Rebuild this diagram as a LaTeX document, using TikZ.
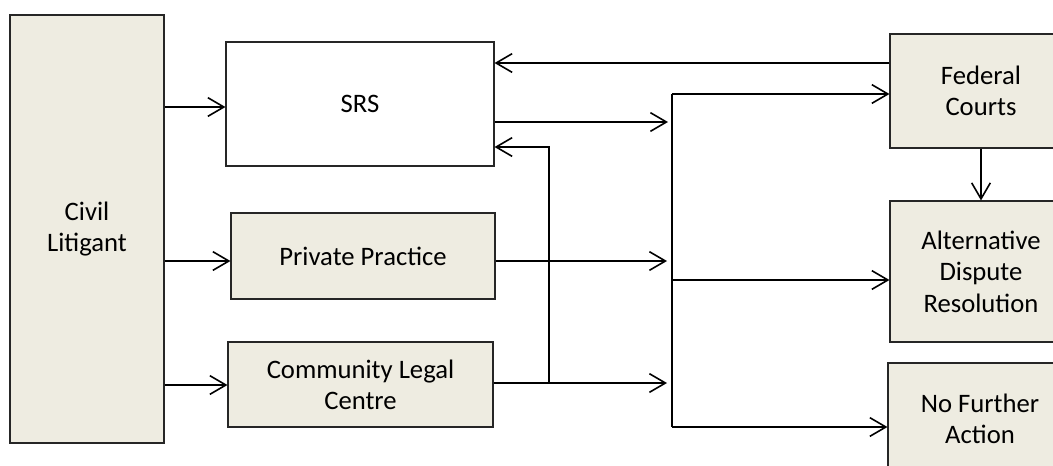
\documentclass[tikz,border=0pt]{standalone}
\usepackage{fontspec}
\setmainfont{Carlito}
\usetikzlibrary{arrows.meta}
\definecolor{beige}{HTML}{EEECE1}
\begin{document}
\begin{tikzpicture}[x=0.75pt,y=-0.75pt,
  box/.style={draw=black!85, line width=0.8pt, fill=beige, align=center, inner sep=0pt,
              font=\fontsize{20}{23.5}\selectfont},
  arr/.style={line width=1.3pt, -{Straight Barb[length=12pt,width=14pt,line width=1.2pt]}},
  ln/.style={line width=1.3pt}]
\useasboundingbox (0,0) rectangle (1053,465);
\clip (0,0) rectangle (1053,465);
% boxes
\node[box, minimum width=115.5pt, minimum height=321pt] (civil) at (87,229) {Civil\\Litigant};
\node[box, fill=white, minimum width=201pt, minimum height=93pt] (srs) at (360,104) {SRS};
\node[box, minimum width=198pt, minimum height=64.5pt] (pp) at (363,256) {Private Practice};
\node[box, minimum width=198.75pt, minimum height=63.75pt] (clc) at (360.5,384.5) {Community Legal\\Centre};
\node[box, minimum width=136.5pt, minimum height=85.5pt] (fed) at (981,91) {Federal\\Courts};
\node[box, minimum width=136.5pt, minimum height=105.75pt] (adr) at (981,271.5) {Alternative\\Dispute\\Resolution};
\node[box, minimum width=138pt, minimum height=84pt] (nfa) at (980,419) {No Further\\Action};
% bus
\coordinate (bustop) at (672,94);
\coordinate (busbot) at (672,427);
\coordinate (busadr) at (672,280);
\coordinate (ret) at (549,383);
% civil litigant arrows
\draw[arr] (civil.east |- 0,107) -- (srs.west |- 0,107);
\draw[arr] (civil.east |- 0,261) -- (pp.west |- 0,261);
\draw[arr] (civil.east |- 0,385) -- (clc.west |- 0,385);
% federal back to SRS
\draw[arr] (fed.west |- 0,63) -- (srs.east |- 0,63);
% to bus
\draw[arr] (srs.east |- 0,122) -- (668,122);
\draw[arr] (pp.east |- 0,261) -- (667,261);
\draw[arr] (clc.east |- 0,383) -- (667,383);
% return to SRS
\draw[arr] (ret) -- (ret |- 0,147) -- (srs.east |- 0,147);
% bus and branches
\draw[ln] (busbot) -- (bustop);
\draw[arr] (bustop) -- (fed.west |- bustop);
\draw[arr] (busadr) -- (adr.west |- busadr);
\draw[arr] (busbot) -- (nfa.west |- busbot);
% federal to ADR
\draw[arr] (fed.south) -- (adr.north);
\end{tikzpicture}
\end{document}
